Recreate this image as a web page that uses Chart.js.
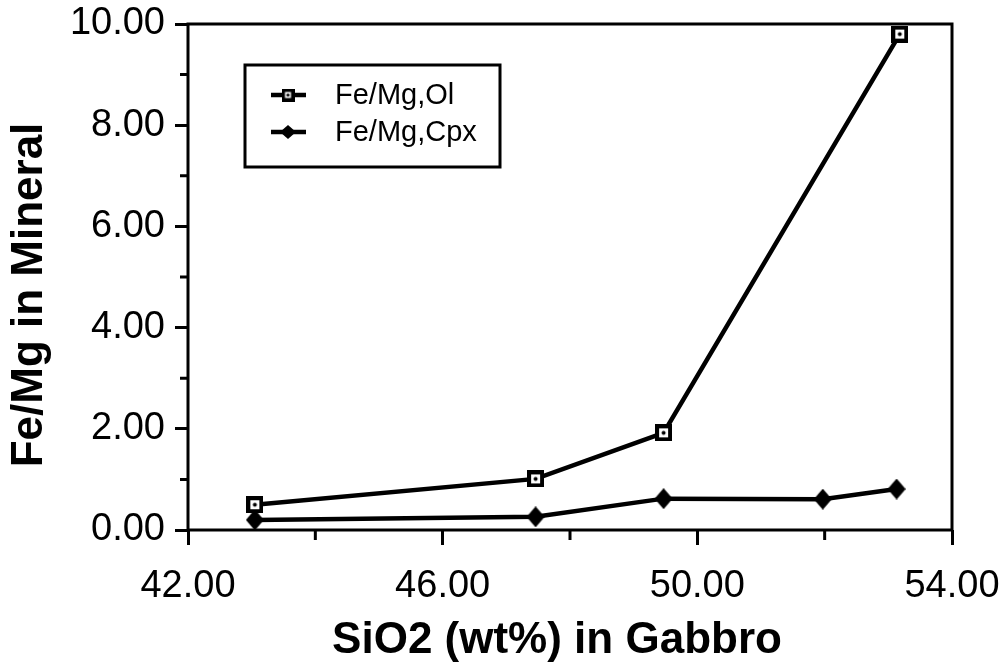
<!DOCTYPE html>
<html>
<head>
<meta charset="utf-8">
<script src="https://cdn.jsdelivr.net/npm/chart.js@4"></script>
<style>
  html, body { margin: 0; padding: 0; background: #fff; }
</style>
</head>
<body>
<canvas id="myChart" width="1006" height="671"></canvas>
<script>
const seriesNames = ['Fe/Mg,Ol', 'Fe/Mg,Cpx'];
const olSiO2 = [43.05, 47.46, 49.47, 53.18];
const olFeMg = [0.50, 1.01, 1.92, 9.80];
const cpxSiO2 = [43.05, 47.46, 49.47, 51.97, 53.13];
const cpxFeMg = [0.20, 0.26, 0.62, 0.61, 0.81];
const xTicks = [42, 46, 50, 54];
const xMinorTicks = [44, 48, 52];
const yTicks = [0, 2, 4, 6, 8, 10];
const yMinorTicks = [1, 3, 5, 7, 9];
const xTitle = 'SiO2 (wt%) in Gabbro';
const yTitle = 'Fe/Mg in Mineral';

const FONT = '"Liberation Sans", Arial, Helvetica, sans-serif';

// open square with a dot in the middle
function squareMark(size, lw, dot) {
  const c = document.createElement('canvas');
  c.width = c.height = size;
  const g = c.getContext('2d');
  g.fillStyle = '#000';
  g.fillRect(0, 0, size, size);
  g.fillStyle = '#fff';
  g.fillRect(lw, lw, size - 2 * lw, size - 2 * lw);
  g.fillStyle = '#000';
  g.beginPath();
  g.arc(size / 2, size / 2, dot, 0, Math.PI * 2);
  g.fill();
  return c;
}

// filled diamond
function diamondMark(w, h) {
  const c = document.createElement('canvas');
  c.width = w;
  c.height = h;
  const g = c.getContext('2d');
  g.fillStyle = '#000';
  g.beginPath();
  g.moveTo(w / 2, 0);
  g.lineTo(w, h / 2);
  g.lineTo(w / 2, h);
  g.lineTo(0, h / 2);
  g.closePath();
  g.fill();
  return c;
}

const olMark = squareMark(17, 4, 2);
const cpxMark = diamondMark(18, 21);
const olLegendMark = squareMark(13, 3.5, 1.6);
const cpxLegendMark = diamondMark(16, 14);

const toPoints = (xs, ys) => xs.map((x, i) => ({ x: x, y: ys[i] }));

// frame, minor ticks, axis titles and the boxed key
const decorations = {
  id: 'decorations',
  afterDraw(chart) {
    const ctx = chart.ctx;
    const a = chart.chartArea;
    const xs = chart.scales.x;
    const ys = chart.scales.y;
    ctx.save();
    ctx.strokeStyle = '#000';
    ctx.lineWidth = 3;
    ctx.strokeRect(a.left, a.top, a.right - a.left, a.bottom - a.top);

    ctx.beginPath();
    yMinorTicks.forEach(v => {
      const py = ys.getPixelForValue(v);
      ctx.moveTo(a.left - 8, py);
      ctx.lineTo(a.left, py);
    });
    xMinorTicks.forEach(v => {
      const px = xs.getPixelForValue(v);
      ctx.moveTo(px, a.bottom);
      ctx.lineTo(px, a.bottom + 10);
    });
    ctx.stroke();

    // axis titles
    ctx.fillStyle = '#000';
    ctx.font = 'bold 44px ' + FONT;
    ctx.textAlign = 'center';
    ctx.textBaseline = 'middle';
    ctx.fillText(xTitle, (a.left + a.right) / 2 - 13, 641);
    ctx.save();
    ctx.translate(30, (a.top + a.bottom) / 2 + 18);
    ctx.rotate(-Math.PI / 2);
    ctx.fillText(yTitle, 0, 0);
    ctx.restore();

    // key box
    const bx = a.left + 57, by = a.top + 41, bw = 255, bh = 102;
    ctx.lineWidth = 3;
    ctx.strokeRect(bx, by, bw, bh);
    const rows = [by + 30, by + 67];
    const marks = [olLegendMark, cpxLegendMark];
    ctx.font = '29px ' + FONT;
    ctx.textAlign = 'left';
    chart.data.datasets.forEach((ds, i) => {
      const ry = rows[i];
      ctx.lineWidth = 4.5;
      ctx.beginPath();
      ctx.moveTo(bx + 26, ry);
      ctx.lineTo(bx + 61, ry);
      ctx.stroke();
      const m = marks[i];
      ctx.drawImage(m, bx + 43 - m.width / 2, ry - m.height / 2);
      ctx.fillText(ds.label, bx + 90, ry + 1);
    });
    ctx.restore();
  }
};

new Chart(document.getElementById('myChart'), {
  type: 'scatter',
  data: {
    datasets: [{
      label: seriesNames[0],
      data: toPoints(olSiO2, olFeMg),
      showLine: true,
      borderColor: '#000',
      borderWidth: 4.5,
      pointStyle: olMark,
      pointRadius: 8
    }, {
      label: seriesNames[1],
      data: toPoints(cpxSiO2, cpxFeMg),
      showLine: true,
      borderColor: '#000',
      borderWidth: 4.5,
      pointStyle: cpxMark,
      pointRadius: 9
    }]
  },
  plugins: [decorations],
  options: {
    responsive: false,
    animation: false,
    devicePixelRatio: 1,
    layout: { padding: { top: 24, right: 54, left: 0, bottom: 0 } },
    plugins: {
      legend: { display: false },
      tooltip: { enabled: false }
    },
    scales: {
      x: {
        type: 'linear',
        min: 42,
        max: 54,
        afterBuildTicks: s => { s.ticks = xTicks.map(v => ({ value: v })); },
        afterFit: s => { s.height = 141; s.paddingLeft = 0; s.paddingRight = 0; },
        border: { display: false },
        grid: { drawOnChartArea: false, tickLength: 15, tickWidth: 3, tickColor: '#000' },
        ticks: {
          padding: 19,
          color: '#000',
          font: { family: FONT, size: 38 },
          maxRotation: 0,
          callback: v => v.toFixed(2)
        }
      },
      y: {
        min: 0,
        max: 10,
        afterBuildTicks: s => { s.ticks = yTicks.map(v => ({ value: v })); },
        afterFit: s => { s.width = 188; s.paddingTop = 0; s.paddingBottom = 0; },
        border: { display: false },
        grid: { drawOnChartArea: false, tickLength: 13, tickWidth: 3, tickColor: '#000' },
        ticks: {
          padding: 10,
          color: '#000',
          font: { family: FONT, size: 38 },
          callback: v => v.toFixed(2)
        }
      }
    }
  }
});
</script>
</body>
</html>
